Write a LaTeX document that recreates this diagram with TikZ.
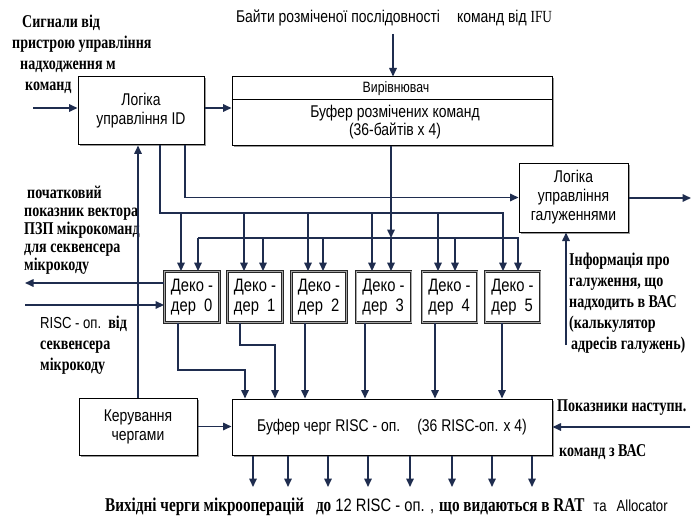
\documentclass[tikz,border=0pt]{standalone}
\usepackage{fontspec}
\setmainfont{Liberation Sans}
\newfontfamily\sansf[FakeStretch=0.82]{Liberation Sans}
\newfontfamily\serf[FakeStretch=0.78]{Liberation Serif}
\usetikzlibrary{arrows.meta,shadows}
\definecolor{lc}{HTML}{1F2D4F}
\begin{document}
\begin{tikzpicture}[x=1pt,y=-1pt,
  ln/.style={draw=lc,line width=1.6pt},
  arr/.style={ln,-{Triangle[length=8.5pt,width=7.5pt]}},
  blk/.style={draw=black,line width=1pt,fill=white,
    drop shadow={shadow xshift=1.5pt,shadow yshift=-1.5pt,fill=black!40,opacity=1},
    inner sep=2pt,align=center,font=\sansf\fontsize{17}{19}\selectfont},
  dec/.style={draw=black!85,line width=0.9pt,double=black!35,double distance=0.9pt,
    fill=white,minimum width=55pt,minimum height=51pt,inner sep=1pt,align=left,
    font=\sansf\fontsize{18}{20}\selectfont},
  sans/.style={font=\sansf\fontsize{17}{19}\selectfont,inner sep=0pt,align=center},
  ann/.style={font=\serf\bfseries\fontsize{18}{21}\selectfont,align=left,inner sep=0pt},
]
\useasboundingbox[fill=white] (0,0) rectangle (696,516);

% boxes
\node[blk,minimum width=126pt,minimum height=68pt] (lid) at (141,111) {Логіка\\управління ID};
\node[blk,minimum width=320pt,minimum height=69pt] (buf) at (392,111.5) {};
\path (buf.north west) ++(0,23) coordinate (bl);
\draw[line width=1pt] (bl) -- (bl -| buf.east);
\node[sans,font=\sansf\fontsize{15}{17}\selectfont] (vir) at (396,89) {Вирівнювач};
\node[sans,font=\sansf\fontsize{17}{18.5}\selectfont] (buft) at (395,122) {Буфер розмічених команд\\(36-байтів х 4)};
\node[blk,minimum width=109pt,minimum height=69pt] (lbr) at (573.5,197.5) {Логіка\\управління\\галуженнями};
\foreach \i/\cx in {0/192,1/255,2/319,3/383.5,4/449.5,5/512.5}
  \node[dec] (d\i) at (\cx,297) {Деко -\\дер~~\i};
\node[blk,minimum width=118pt,minimum height=57pt] (kq) at (138,426.5) {Керування\\чергами};
\node[blk,minimum width=320pt,minimum height=56pt] (qb) at (392,427) {Буфер черг RISC - оп.\quad(36 RISC-оп. х 4)};

% texts
\node[sans] (ifu) at (394,18) {Байти розміченої послідовності\quad команд від {\serf IFU}};
\node[ann,anchor=north west] (sig) at (12,15) {\hspace*{10pt}Сигнали від\\пристрою управління\\\hspace*{8pt}надходження м\\\hspace*{13pt}команд};
\node[ann,anchor=north west,font=\serf\bfseries\fontsize{18}{18}\selectfont] (vec) at (24,186) {\hspace*{3pt}початковий\\показник вектора\\ПЗП мікрокоманд\\для секвенсера\\мікрокоду};
\node[ann,anchor=north west] (risc) at (40,316) {{\sansf\mdseries\fontsize{16}{21}\selectfont RISC - оп.}\ \ від\\секвенсера\\мікрокоду};
\node[ann,anchor=north west] (info) at (569,253) {Інформація про\\галуження, що\\надходить в ВАС\\(калькулятор\\\hspace*{2pt}адресів галужень)};
\node[ann,anchor=west] (pok) at (557,408) {Показники наступн.};
\node[ann,anchor=west] (kbac) at (559,452) {команд з ВАС};
\node[sans,anchor=west,font=\sansf\fontsize{18}{20}\selectfont] (out) at (105,507) {{\serf\bfseries\fontsize{19.5}{20}\selectfont Вихідні черги мікрооперацій}\hspace{12pt}{\serf\bfseries\fontsize{19.5}{20}\selectfont до} 12 RISC - оп. ,\hspace{5pt}{\serf\bfseries\fontsize{19.5}{20}\selectfont що видаються в RAT}\hspace{9pt}{\fontsize{16}{20}\selectfont та\hspace{10pt}Allocator}};

% connectors
\coordinate (sigin) at (33,108);
\draw[arr] (sigin) -- (sigin -| lid.west);
\draw[arr] (lid.east |- sigin) -- (buf.west |- sigin);
\coordinate (ifuin) at (393,34);
\draw[arr] (ifuin) -- (ifuin |- buf.north);
\draw[arr] (kq.north) -- (kq.north |- lid.south);
% bus 1
\draw[arr] (lid.south -| 160,0) |- (503,213) -- (503,0 |- d5.north);
\foreach \x in {181,244,308,372,438}
  \draw[arr] (\x,213) -- (\x,0 |- d0.north);
% line to branch logic
\draw[arr] (lid.south -| 185,0) |- (lbr.west);
% buffer down to bus 2
\draw[arr] (buf.south -| 391,0) -- (391,238);
\draw[arr] (198,238) -- (198,0 |- d0.north);
\draw[arr] (198,238) -| (518,0 |- d5.north);
\foreach \x in {263,323,391,455}
  \draw[arr] (\x,238) -- (\x,0 |- d0.north);
% decoder 0 side
\coordinate (vecout) at (25,283);
\draw[arr] (d0.west |- vecout) -- (vecout);
\coordinate (riscin) at (25,305);
\draw[arr] (riscin) -- (d0.west |- riscin);
% decoder outputs
\draw[arr] (d0.south -| 178,0) |- (245,370) -- (245,0 |- qb.north);
\draw[arr] (d1.south -| 240,0) |- (275,345) -- (275,0 |- qb.north);
\draw[arr] (d2.south -| 305,0) -- (305,0 |- qb.north);
\draw[arr] (d3.south -| 365,0) -- (365,0 |- qb.north);
\draw[arr] (d4.south -| 435,0) -- (435,0 |- qb.north);
\draw[arr] (d5.south -| 502,0) -- (502,0 |- qb.north);
% queue
\draw[arr] (kq.east) -- (qb.west |- kq.east);
\coordinate (pnin) at (690,427);
\draw[arr] (pnin) -- (qb.east |- pnin);
\foreach \x in {253,288,328,368,410,452,492,532}
  \draw[arr] (\x,0 |- qb.south) -- (\x,487);
% branch logic
\coordinate (brout) at (691,198);
\draw[arr] (lbr.east |- brout) -- (brout);
\coordinate (bacin) at (566,345);
\draw[arr] (bacin) -- (bacin |- lbr.south);
\end{tikzpicture}
\end{document}
